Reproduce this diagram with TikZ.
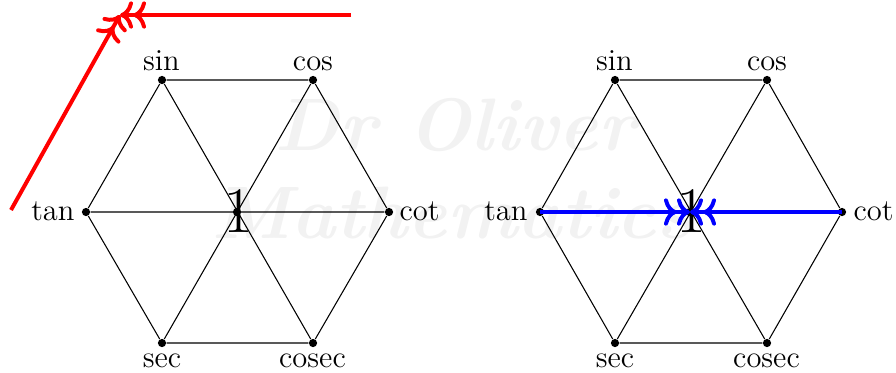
\documentclass[tikz,border=0pt]{standalone}
\usetikzlibrary{arrows.meta}
\begin{document}
\begin{tikzpicture}[x=0.013245cm,y=-0.013245cm,
  vdot/.style={circle,fill=black,inner sep=0pt,minimum size=3.1pt},
  edge/.style={line width=0.4pt,black},
  lab/.style={font=\fontsize{11.5}{14}\selectfont,inner sep=0pt},
  one/.style={font=\fontsize{24.5}{30}\selectfont,inner sep=0pt},
  wm/.style={font=\fontsize{28}{34}\selectfont\bfseries\itshape,text=black!5,inner sep=0pt},
  flow/.style={line width=1.5pt,->>,shorten >=0pt}]
\useasboundingbox (0,0) rectangle (896,372);
% watermark
\node[wm] (wm1) at (455,125) {Dr Oliver};
\node[wm] (wm2) at (452,213) {Mathematics};
% left hexagon
\foreach \n/\x/\y in {Lsin/162/80,Lcos/313/80,Ltan/86/212,Lcot/389/212,Lsec/162/343,Lcosec/313/343,Lc/237/212}
  \node[vdot] (\n) at (\x,\y) {};
\draw[edge] (Lsin)--(Lcos)--(Lcot)--(Lcosec)--(Lsec)--(Ltan)--(Lsin);
\draw[edge] (Lsin)--(Lcosec) (Lcos)--(Lsec) (Ltan)--(Lcot);
\node[one] (L1) at (238,211) {1};
\node[lab,anchor=base] (Lsinl) at (161.5,70) {sin};
\node[lab,anchor=base] (Lcosl) at (313,70) {cos};
\node[lab,anchor=base east] (Ltanl) at (75,220) {tan};
\node[lab,anchor=base west] (Lcotl) at (399,220) {cot};
\node[lab,anchor=base] (Lsecl) at (162,367) {sec};
\node[lab,anchor=base] (Lcosecl) at (312.5,367) {cosec};
% right hexagon
\foreach \n/\x/\y in {Rsin/615/80,Rcos/767/80,Rtan/540/212,Rcot/842/212,Rsec/615/343,Rcosec/767/343,Rc/690/212}
  \node[vdot] (\n) at (\x,\y) {};
\draw[edge] (Rsin)--(Rcos)--(Rcot)--(Rcosec)--(Rsec)--(Rtan)--(Rsin);
\draw[edge] (Rsin)--(Rcosec) (Rcos)--(Rsec) (Rtan)--(Rcot);
\node[one] (R1) at (691,211) {1};
\node[lab,anchor=base] (Rsinl) at (614.5,70) {sin};
\node[lab,anchor=base] (Rcosl) at (767,70) {cos};
\node[lab,anchor=base east] (Rtanl) at (528,220) {tan};
\node[lab,anchor=base west] (Rcotl) at (853,220) {cot};
\node[lab,anchor=base] (Rsecl) at (615,367) {sec};
\node[lab,anchor=base] (Rcosecl) at (766.5,367) {cosec};
% blue arrows
\draw[flow,blue] (Rtan.center) -- (Rc.center);
\draw[flow,blue] (Rcot.center) -- (Rc.center);
% red arrows
\coordinate (ra) at (11,210);
\coordinate (rb) at (351,15);
\coordinate (rm) at (120,15);
\draw[flow,red] (ra) -- (rm);
\draw[flow,red] (rb) -- (rm);
\end{tikzpicture}
\end{document}
